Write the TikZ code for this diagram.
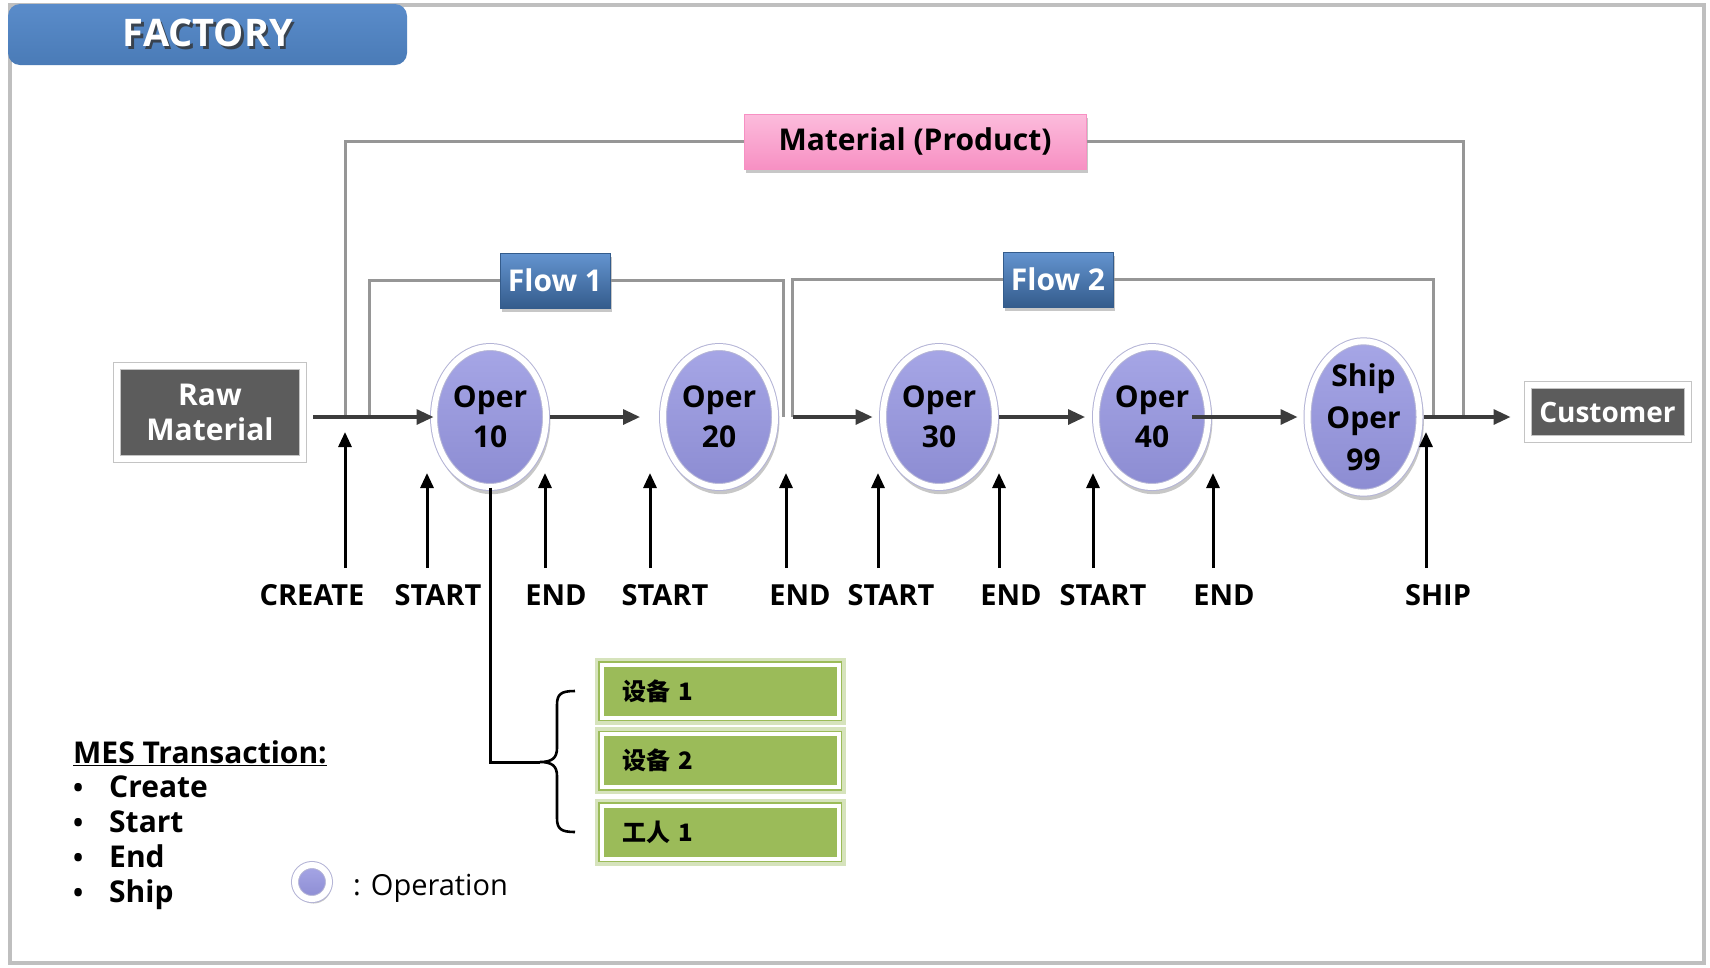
\documentclass[tikz,border=0pt]{standalone}
\usepackage{fontspec}
\setmainfont{Open Sans}
\newfontfamily\cjk{Noto Sans CJK SC}
\usetikzlibrary{arrows.meta,shapes.geometric,shadows}
\newcommand\myfs[2]{\fontsize{#1}{#2}\selectfont}
\definecolor{framec}{HTML}{BFBFBF}
\definecolor{grayl}{HTML}{969696}
\definecolor{mainl}{HTML}{3C3C3C}
\definecolor{opTop}{HTML}{A6A6E6}
\definecolor{opMid}{HTML}{9898DA}
\definecolor{opBot}{HTML}{8C8CD2}
\definecolor{oprim}{HTML}{B4B4D6}
\definecolor{flowTop}{HTML}{6494D0}
\definecolor{flowMid}{HTML}{3F6CA1}
\definecolor{flowBot}{HTML}{345C8C}
\definecolor{matTop}{HTML}{FCBCDC}
\definecolor{matBot}{HTML}{F790C3}
\definecolor{darkf}{HTML}{5C5C5C}
\definecolor{darkrim}{HTML}{C4C4C4}
\definecolor{facTop}{HTML}{5A8CCA}
\definecolor{facBot}{HTML}{4A7BB7}
\definecolor{gfill}{HTML}{9BBB59}
\definecolor{gglow}{HTML}{D6E3BC}
\begin{document}
\begin{tikzpicture}[x=1pt,y=-1pt,
  shd/.style={drop shadow={shadow xshift=1.5pt,shadow yshift=-3.5pt,shadow scale=1.05,opacity=0.22,fill=black}},
  bshd/.style={drop shadow={shadow xshift=2pt,shadow yshift=-4pt,opacity=0.22,fill=black}},
  opnode/.style={ellipse, minimum width=112pt, minimum height=140pt, inner sep=0pt,
    draw=oprim, line width=1pt, double=white, double distance=6pt,
    top color=opTop, bottom color=opBot, shd,
    font=\myfs{30}{40}\bfseries, align=center},
  flowbox/.style={rectangle, minimum width=110pt, minimum height=55pt, inner sep=0pt,
    top color=flowTop, middle color=flowMid, bottom color=flowBot, draw=flowBot, line width=1pt,
    text=white, font=\myfs{30}{36}\bfseries, bshd},
  matbox/.style={rectangle, minimum width=342pt, minimum height=55pt, inner sep=0pt,
    top color=matTop, bottom color=matBot, draw=matBot, line width=1pt,
    font=\myfs{30}{36}\bfseries, bshd},
  darkbox/.style={rectangle, inner sep=0pt, fill=darkf, draw=darkrim, line width=1pt,
    double=white, double distance=6pt, text=white, align=center, bshd},
  gbox/.style={rectangle, minimum width=237pt, minimum height=53pt, text width=196pt, align=left,
    inner xsep=20.5pt, inner ysep=0pt, fill=gfill, draw=gfill, double=white, double distance=4pt,
    line width=1.5pt, preaction={draw=gglow, line width=14pt},
    font=\cjk\bfseries\myfs{24}{28}},
  lbl/.style={anchor=base, font=\myfs{29}{34}\bfseries},
  uparr/.style={draw=black, line width=3pt, -{Triangle[length=15pt,width=13pt]}},
  mainarr/.style={draw=mainl, line width=3.2pt, -{Triangle[length=17pt,width=15pt]}},
  grayln/.style={draw=grayl, line width=3pt},
  factext/.style={font=\myfs{38}{40}\bfseries, inner sep=0pt},
  itm/.style={anchor=base west, font=\myfs{30}{35}\bfseries, inner sep=0pt}
]
\useasboundingbox (0,0) rectangle (1710,967);
\fill[white] (0,0) rectangle (1710,967);
\draw[framec, line width=4pt] (9.5,4.5) rectangle (1704,963);

% FACTORY banner
\node[rectangle, rounded corners=12pt, minimum width=399pt, minimum height=61pt, inner sep=0pt,
  top color=facTop, bottom color=facBot] (facbg) at (207.5,34.5) {};
\node[factext, text=black!80, opacity=0.8] (facsh) at (210.5,35.5) {FACTORY};
\node[factext, text=white] (fac) at (208,33) {FACTORY};

% top boxes
\node[matbox] (mat) at (915,141.5) {Material (Product)};
\node[flowbox] (fl1) at (555,280.5) {Flow 1};
\node[flowbox] (fl2) at (1058,279.5) {Flow 2};

% gray connector lines
\coordinate (mL) at (345,417);
\coordinate (mR) at (1463,417);
\coordinate (f1L) at (369,417);
\coordinate (f1R) at (783,417);
\coordinate (f2L) at (792.5,417);
\coordinate (f2R) at (1433,417);
\draw[grayln] (mL) |- (mat.west);
\draw[grayln] (mat.east) -| (mR);
\draw[grayln] (f1L) |- (fl1.west);
\draw[grayln] (fl1.east) -| (f1R);
\draw[grayln] (f2L) |- (fl2.west);
\draw[grayln] (fl2.east) -| (f2R);

% end boxes
\node[darkbox, minimum width=186pt, minimum height=93pt, font=\myfs{30}{35}\bfseries] (raw) at (210,412) {Raw\\Material};
\node[darkbox, minimum width=160pt, minimum height=54pt, font=\myfs{28}{32}\bfseries] (cust) at (1607.5,412) {Customer};

% operations
\node[opnode] (o10) at (490,417) {Oper\\10};
\node[opnode] (o20) at (719,417) {Oper\\20};
\node[opnode] (o30) at (939,417) {Oper\\30};
\node[opnode] (o40) at (1152,417) {Oper\\40};
\node[opnode, font=\myfs{30}{42}\bfseries] (o99) at (1363.5,417) {Ship\\Oper\\99};

% main flow arrows
\coordinate (rs) at (313,417);
\draw[mainarr] (rs) -- (o10.west);
\draw[mainarr, shorten <=3.5pt, shorten >=22.5pt] (o10.east) -- (o20.west);
\draw[mainarr, shorten >=10pt] (f2L) -- (o30.west);
\draw[mainarr, shorten <=3.5pt, shorten >=10.5pt] (o30.east) -- (o40.west);
\draw[mainarr, shorten <=-16.5pt, shorten >=9.5pt] (o40.east) -- (o99.west);
\draw[mainarr, shorten <=3.5pt, shorten >=16.5pt] (o99.east) -- (o99.east -| cust.west);

% transaction arrows
\foreach \n/\x/\t in {a/345/432, b/427/473, c/545/473, d/650/473, e/786/473,
                      f/878/473, g/999/473, h/1093/473, i/1213/473, j/1426/432}{
  \coordinate (t\n) at (\x,568);
  \coordinate (h\n) at (\x,\t);
  \draw[uparr] (t\n) -- (h\n);
}
\node[lbl] (lA) at (312,605) {CREATE};
\node[lbl] (lB) at (438,605) {START};
\node[lbl] (lC) at (556,605) {END};
\node[lbl] (lD) at (665,605) {START};
\node[lbl] (lE) at (800,605) {END};
\node[lbl] (lF) at (891,605) {START};
\node[lbl] (lG) at (1011,605) {END};
\node[lbl] (lH) at (1103,605) {START};
\node[lbl] (lI) at (1224,605) {END};
\node[lbl] (lJ) at (1438,605) {SHIP};

% resources
\node[gbox] (g1) at (720,691) {设备 1};
\node[gbox] (g2) at (720,760.5) {设备 2};
\node[gbox] (g3) at (720,832) {工人 1};
\coordinate (btip) at (540,762);
\draw[black, line width=3pt] (o10.south) |- (btip);
\draw[black, line width=2.6pt] (575,691) .. controls (561,691) and (557,694) .. (557,705)
  -- (557,748) .. controls (557,758) and (552,762) .. (btip)
  .. controls (552,762) and (557,766) .. (557,776)
  -- (557,818) .. controls (557,829) and (561,832) .. (575,832);

% legend
\node[itm, font=\myfs{30}{35}\bfseries] (mes) at (73,763) {\underline{MES Transaction:}};
\node[itm] (i1) at (73,797) {\makebox[36pt][l]{\myfs{27}{27}•}Create};
\node[itm] (i2) at (73,832) {\makebox[36pt][l]{\myfs{27}{27}•}Start};
\node[itm] (i3) at (73,867) {\makebox[36pt][l]{\myfs{27}{27}•}End};
\node[itm] (i4) at (73,902) {\makebox[36pt][l]{\myfs{27}{27}•}Ship};
\node[circle, minimum size=34pt, inner sep=0pt, draw=oprim, line width=1pt, double=white, double distance=6pt,
  top color=opTop, bottom color=opBot, shd] (leg) at (312,882) {};
\node[anchor=base west, inner sep=0pt, font=\myfs{29}{34}] (legt) at (353,895) {: Operation};
\end{tikzpicture}
\end{document}
